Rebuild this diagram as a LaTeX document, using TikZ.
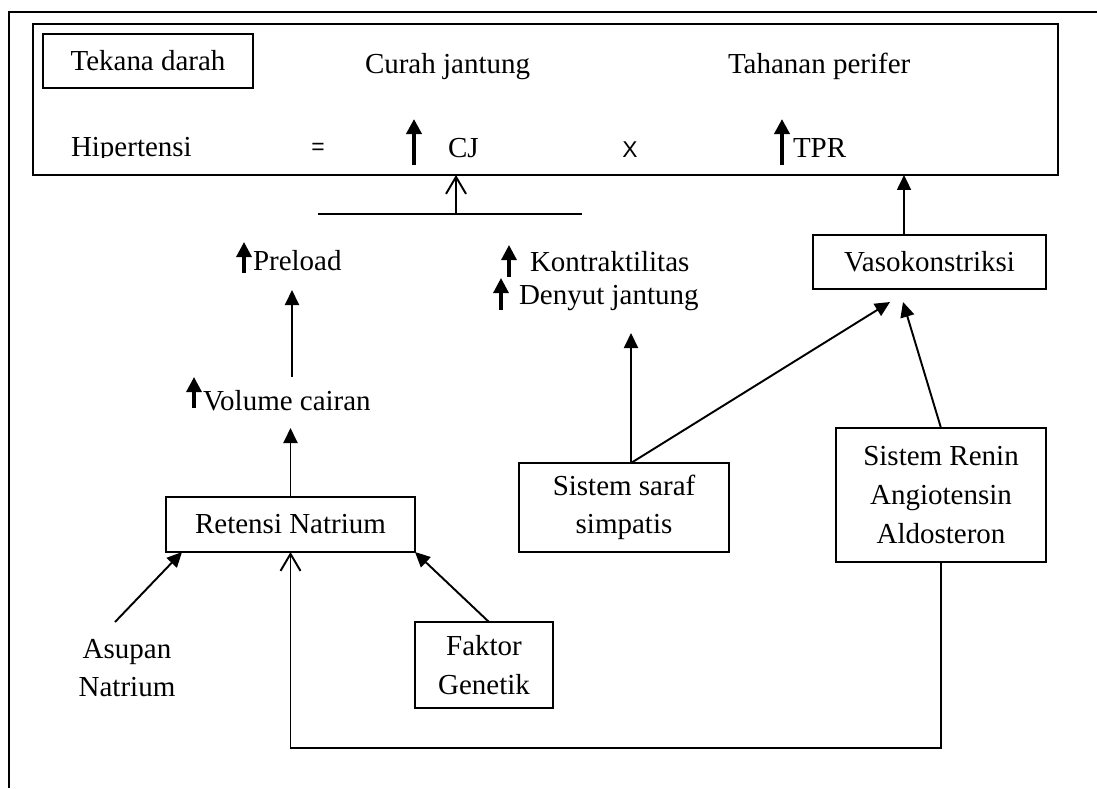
\documentclass[tikz,border=0pt]{standalone}
\usepackage{fontspec}
\setmainfont{Liberation Serif}
\newfontfamily\sansf{Liberation Sans}
\usetikzlibrary{arrows.meta,calc}
\begin{document}
\begin{tikzpicture}[x=0.02cm,y=-0.02cm,
  every node/.style={font=\fontsize{16.5}{22}\selectfont, inner sep=0pt, outer sep=0pt},
  box/.style={draw, line width=1.1pt, align=center},
  txt/.style={anchor=base west},
  conn/.style={line width=1.1pt, -{Triangle[length=0.3cm,width=0.28cm]}},
  openc/.style={line width=1.1pt, -{Straight Barb[length=0.34cm,width=0.4cm]}},
  upar/.style={line width=1.8pt, -{Triangle[length=0.3cm,width=0.3cm]}},
  bigar/.style={line width=2.2pt, -{Triangle[length=0.3cm,width=0.3cm]}},
  plain/.style={line width=1.1pt},
  sym/.style={font=\sansf\fontsize{13}{15}\selectfont}]
\useasboundingbox (0,0) rectangle (1097,788);
% outer frame
\draw[plain] (1097,12) -- (9,12) -- (9,788);
% equation box
\node[box, minimum width=20.5cm, minimum height=3.02cm] (eq) at (545.5,99.5) {};
\node[box, minimum width=4.2cm, minimum height=1.08cm] (td) at (148,61) {Tekana darah};
\node[txt] (cur) at (365,73) {Curah jantung};
\node[txt] (tah) at (728,73) {Tahanan perifer};
\begin{scope}
  \clip (33,24) rectangle (1058,157);
  \node[txt] (hip) at (71,156) {Hipertensi};
\end{scope}
\node[sym] (eqs) at (318,148.5) {=};
\node[txt] (cj) at (448,157) {CJ};
\node[sym, anchor=base] (xs) at (630,157) {X};
\node[txt] (tpr) at (793,157) {TPR};
\draw[bigar] (414,165) -- (414,119);
\draw[bigar] (782,165) -- (782,119);
% line under CJ
\coordinate (cjL) at (318,214);
\coordinate (cjR) at (582,214);
\coordinate (cjM) at (456,214);
\draw[plain] (cjL) -- (cjR);
\draw[openc] (cjM) -- (cjM |- eq.south);
% text labels
\node[txt] (pre) at (253,270) {Preload};
\draw[upar] (244,273) -- (244,242);
\node[txt] (vol) at (203,410) {Volume cairan};
\draw[upar] (194,408) -- (194,377);
\node[txt] (kon) at (530,271) {Kontraktilitas};
\draw[upar] (509,277) -- (509,245);
\node[txt] (den) at (519,304) {Denyut jantung};
\draw[upar] (501,310) -- (501,278);
% boxes
\node[box, minimum width=4.98cm, minimum height=1.1cm] (ret) at (290.5,524.5) {Retensi Natrium};
\node[box, minimum width=4.66cm, minimum height=1.08cm] (vaso) at (929.5,262) {Vasokonstriksi};
\node[box, minimum width=4.2cm, minimum height=1.78cm] (sar) at (624,507.5) {Sistem saraf\\simpatis};
\node[box, minimum width=4.2cm, minimum height=2.68cm] (ren) at (941,495) {Sistem Renin\\Angiotensin\\Aldosteron};
\node[box, minimum width=2.76cm, minimum height=1.72cm] (fak) at (484,665) {Faktor\\Genetik};
\node[align=center] (asu) at (127,668) {Asupan\\Natrium};
% connectors
\coordinate (volIn) at (290.5,428);
\coordinate (volOut) at (292,377);
\coordinate (preIn) at (292,290);
\draw[conn] (ret.north) -- (volIn);
\draw[conn] (volOut) -- (preIn);
\coordinate (sarTop) at (631,463);
\coordinate (kdIn) at (631,333);
\draw[conn] (sarTop) -- (kdIn);
\coordinate (vasIn1) at (890,302);
\coordinate (vasIn2) at (903,302);
\draw[conn] (sarTop) -- (vasIn1);
\draw[conn] (ren.north) -- (vasIn2);
\coordinate (vasTop) at ($(vaso.north west)+(91,0)$);
\draw[conn] (vasTop) -- (vasTop |- eq.south);
\coordinate (asOut) at (115,622);
\draw[conn] (asOut) -- ($(ret.south west)+(16,0)$);
\draw[conn] ($(fak.north)+(5,0)$) -- (ret.south east);
\draw[openc] (ren.south) -- (ren.south |- 0,748) -| (ret.south);
\end{tikzpicture}
\end{document}
